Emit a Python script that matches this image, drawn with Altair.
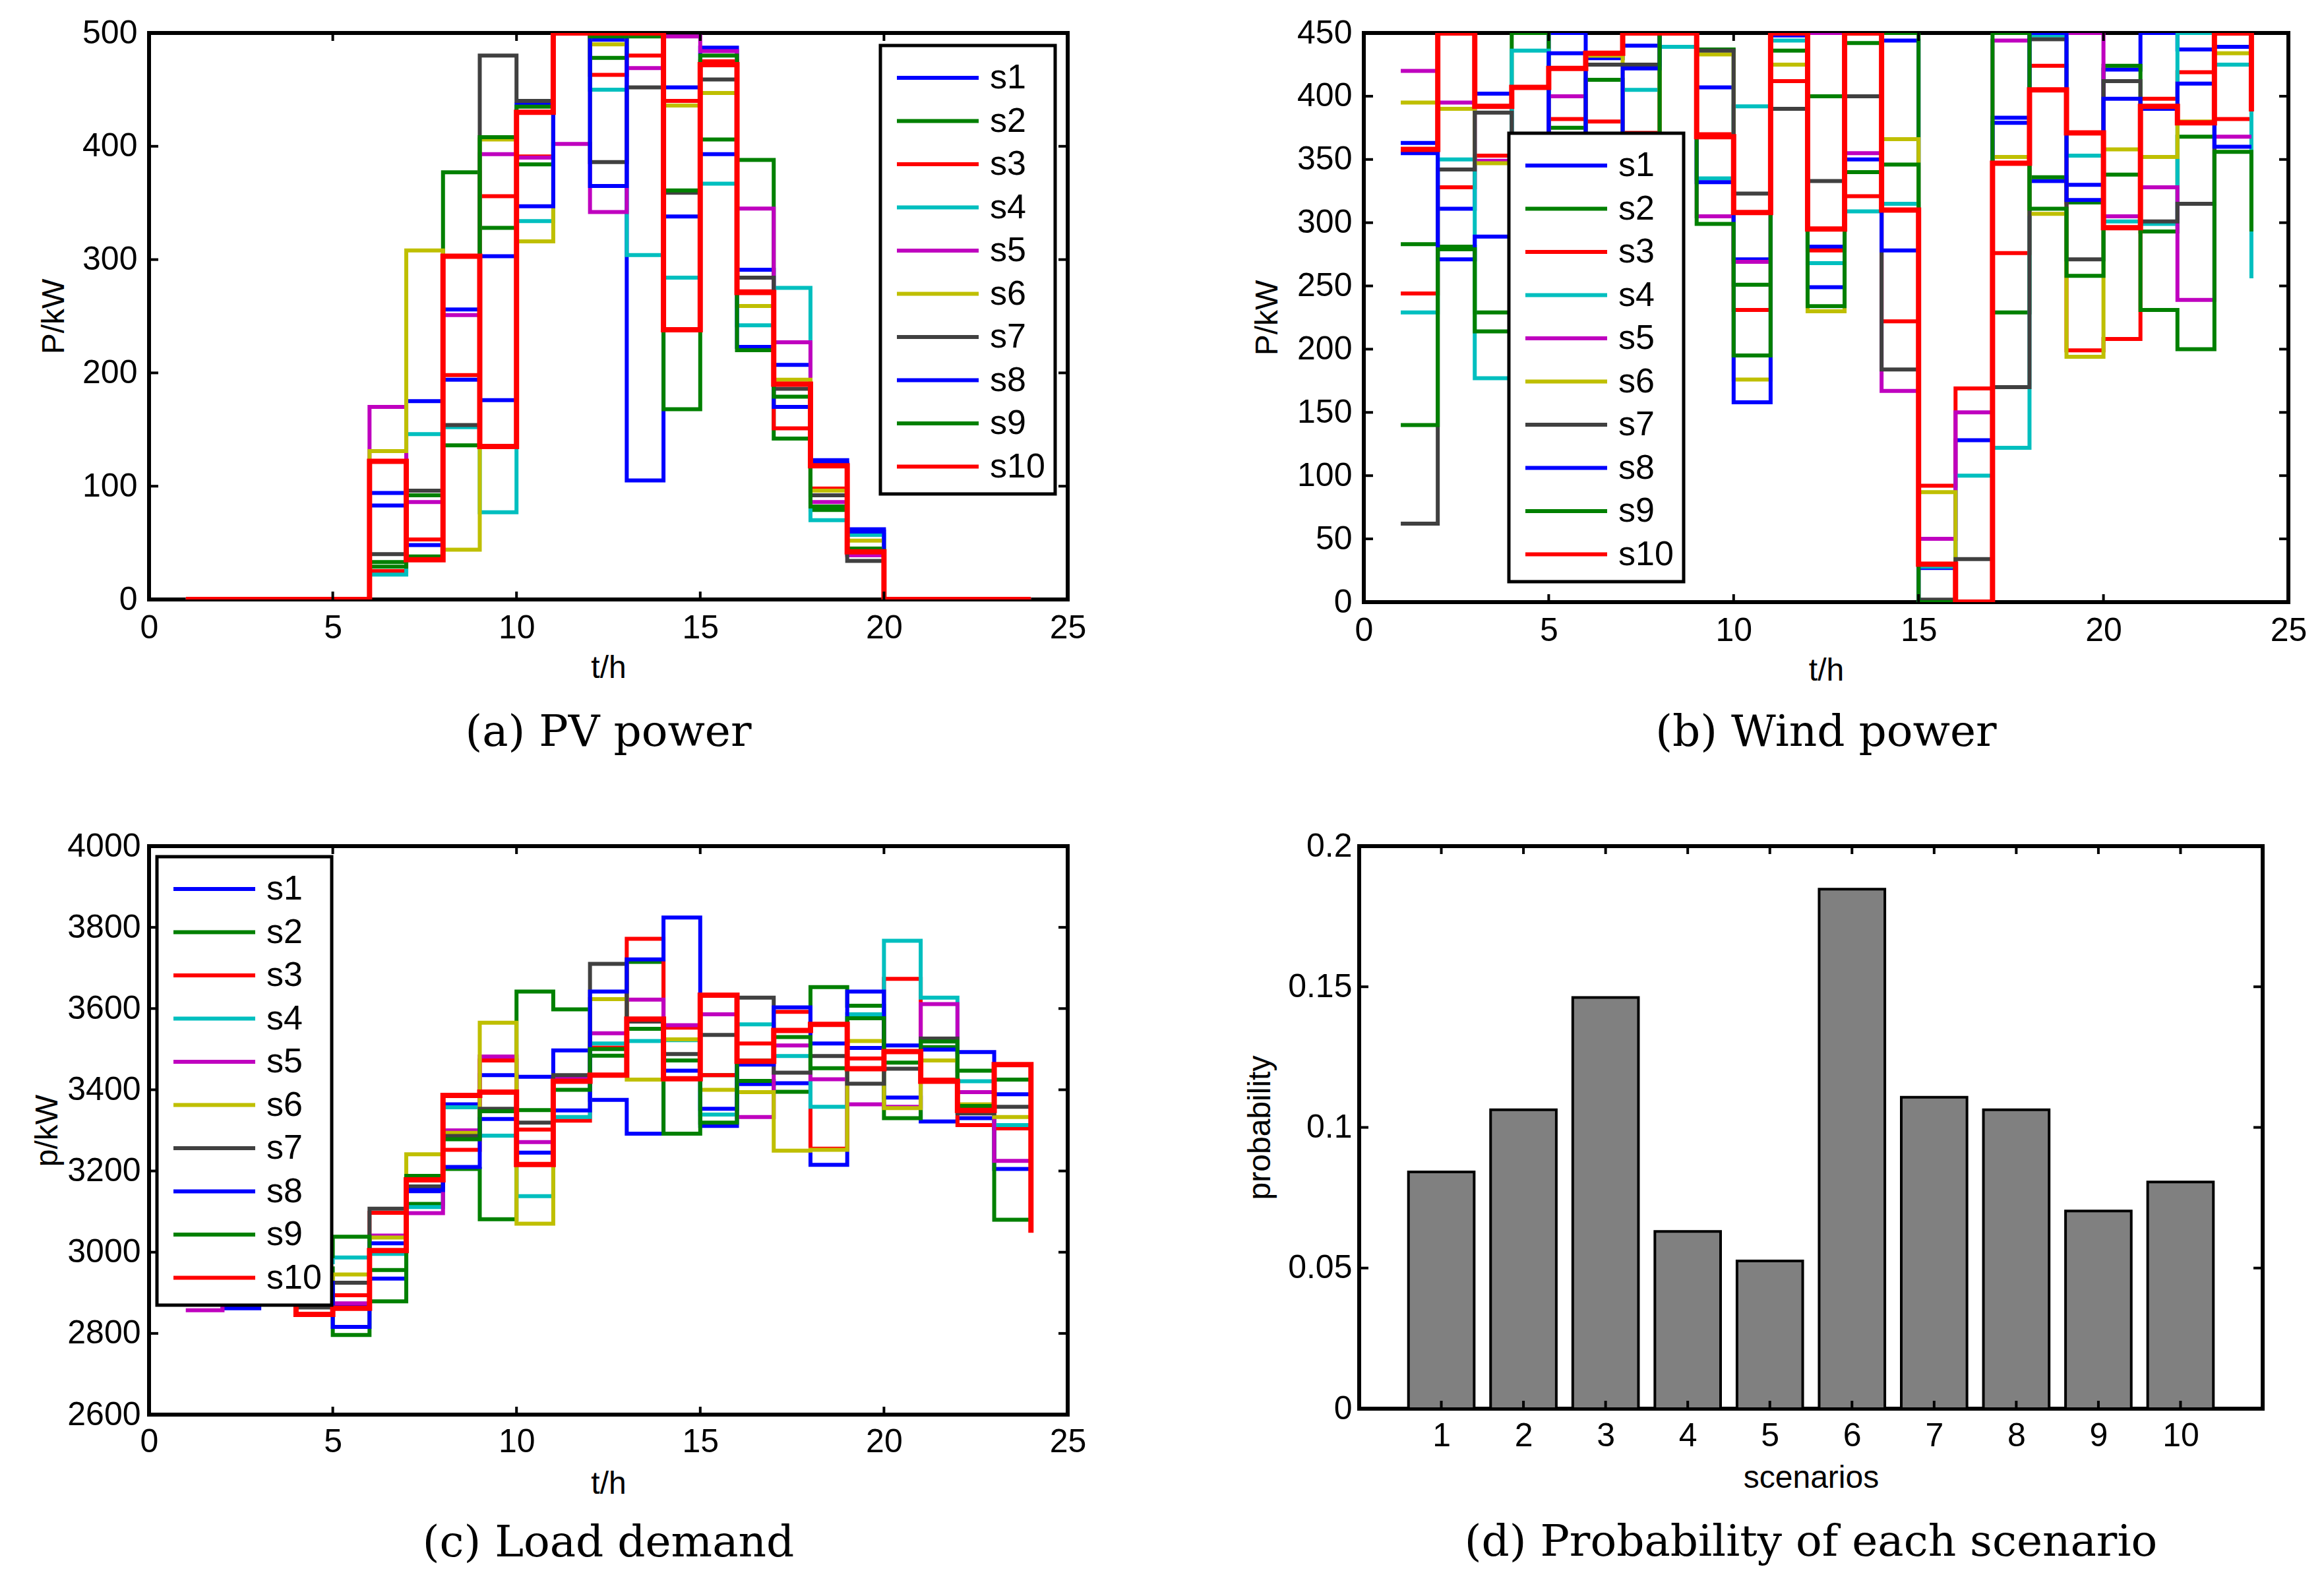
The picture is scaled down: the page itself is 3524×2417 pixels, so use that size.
import altair as alt
import pandas as pd

HOURS = list(range(1, 25))
SERIES = ["s1", "s2", "s3", "s4", "s5", "s6", "s7", "s8", "s9", "s10"]
COLORS = ["#0000ff", "#008000", "#ff0000", "#00bfbf", "#bf00bf",
          "#bfbf00", "#404040", "#0000ff", "#008000", "#ff0000"]

# ---- (a) PV power, kW, hours 1..24 ----
PV_S1 = [0, 0, 0, 0, 0, 94, 175, 256, 303, 437, 500, 494, 105, 338, 487, 291, 207, 123, 62, 0, 0, 0, 0, 0]
PV_S2 = [0, 0, 0, 0, 0, 33, 92, 377, 328, 384, 500, 478, 497, 168, 406, 388, 142, 79, 45, 0, 0, 0, 0, 0]
PV_S3 = [0, 0, 0, 0, 0, 25, 53, 198, 356, 391, 500, 463, 480, 440, 475, 272, 151, 98, 40, 0, 0, 0, 0, 0]
PV_S4 = [0, 0, 0, 0, 0, 22, 146, 152, 77, 334, 500, 450, 304, 284, 367, 242, 275, 70, 57, 0, 0, 0, 0, 0]
PV_S5 = [0, 0, 0, 0, 0, 170, 86, 251, 393, 390, 402, 342, 469, 497, 484, 345, 227, 86, 39, 0, 0, 0, 0, 0]
PV_S6 = [0, 0, 0, 0, 0, 131, 308, 44, 406, 316, 500, 490, 500, 436, 447, 259, 194, 96, 52, 0, 0, 0, 0, 0]
PV_S7 = [0, 0, 0, 0, 0, 40, 96, 154, 480, 440, 500, 386, 452, 359, 459, 284, 186, 92, 34, 0, 0, 0, 0, 0]
PV_S8 = [0, 0, 0, 0, 0, 83, 48, 194, 176, 347, 500, 365, 500, 452, 393, 223, 170, 120, 60, 0, 0, 0, 0, 0]
PV_S9 = [0, 0, 0, 0, 0, 29, 38, 136, 408, 435, 500, 497, 500, 361, 480, 220, 179, 82, 43, 0, 0, 0, 0, 0]
PV_S10 = [0, 0, 0, 0, 0, 122, 35, 303, 135, 430, 500, 500, 500, 238, 472, 271, 190, 118, 42, 0, 0, 0, 0, 0]

# ---- (b) Wind power, kW ----
WD_S1 = [363, 311, 402, 350, 450, 430, 440, 450, 407, 271, 448, 281, 350, 444, 27, 128, 383, 333, 330, 421, 450, 437, 439, 439]
WD_S2 = [283, 281, 229, 450, 375, 413, 340, 450, 437, 251, 436, 400, 442, 450, 0, 0, 229, 336, 316, 424, 293, 368, 450, 450]
WD_S3 = [244, 328, 353, 340, 382, 380, 371, 450, 370, 231, 412, 278, 321, 222, 92, 169, 276, 424, 199, 208, 398, 419, 382, 382]
WD_S4 = [229, 350, 177, 436, 345, 320, 405, 439, 335, 392, 444, 268, 309, 315, 28, 100, 122, 448, 353, 301, 299, 450, 425, 256]
WD_S5 = [420, 395, 349, 360, 400, 340, 300, 450, 305, 269, 450, 450, 355, 167, 50, 150, 444, 450, 450, 305, 328, 239, 368, 368]
WD_S6 = [395, 390, 347, 300, 330, 432, 320, 450, 433, 176, 425, 230, 450, 366, 87, 0, 352, 307, 194, 358, 352, 380, 434, 434]
WD_S7 = [62, 342, 387, 330, 350, 425, 425, 450, 436, 323, 390, 333, 400, 184, 2, 34, 170, 445, 271, 412, 301, 315, 450, 450]
WD_S8 = [355, 271, 289, 300, 434, 340, 422, 450, 332, 158, 450, 249, 450, 278, 0, 0, 379, 450, 318, 398, 390, 410, 360, 360]
WD_S9 = [140, 279, 214, 330, 300, 320, 350, 450, 299, 195, 450, 234, 340, 346, 0, 0, 450, 311, 258, 338, 231, 200, 356, 293]
WD_S10 = [358, 450, 392, 407, 422, 434, 450, 450, 368, 308, 450, 295, 450, 310, 30, 0, 347, 405, 371, 296, 392, 379, 450, 388]

# ---- (c) Load demand, kW ----
LD_S1 = [2890, 2862, 2880, 2905, 2870, 2935, 3150, 3364, 3436, 3432, 3497, 3375, 3292, 3447, 3311, 3414, 3416, 3215, 3503, 3381, 3322, 3330, 3205, 3205]
LD_S2 = [2930, 2940, 2920, 2960, 2796, 2879, 3119, 3205, 3081, 3642, 3598, 3484, 3715, 3292, 3436, 3422, 3395, 3653, 3607, 3330, 3505, 3447, 3080, 3080]
LD_S3 = [2910, 2900, 2890, 2885, 2894, 3097, 3180, 3252, 3472, 3302, 3324, 3504, 3772, 3553, 3436, 3514, 3592, 3255, 3477, 3673, 3425, 3313, 3305, 3305]
LD_S4 = [2920, 2935, 2950, 2975, 2987, 2996, 3111, 3357, 3287, 3138, 3333, 3514, 3520, 3522, 3339, 3561, 3483, 3358, 3586, 3767, 3627, 3421, 3313, 3313]
LD_S5 = [2857, 2880, 2900, 2890, 2874, 3041, 3096, 3300, 3482, 3271, 3431, 3539, 3622, 3559, 3586, 3333, 3509, 3426, 3364, 3358, 3611, 3394, 3225, 3225]
LD_S6 = [2940, 2925, 2945, 2935, 2945, 3036, 3241, 3294, 3565, 3070, 3420, 3623, 3425, 3524, 3400, 3394, 3250, 3252, 3520, 3355, 3472, 3364, 3333, 3333]
LD_S7 = [2895, 2905, 2915, 2864, 2925, 3107, 3162, 3286, 3353, 3319, 3436, 3710, 3568, 3488, 3535, 3627, 3442, 3483, 3415, 3452, 3526, 3342, 3358, 3358]
LD_S8 = [2900, 2910, 2895, 2925, 2816, 3022, 3153, 3210, 3328, 3245, 3349, 3642, 3721, 3824, 3353, 3462, 3603, 3514, 3642, 3509, 3499, 3493, 3389, 3389]
LD_S9 = [2950, 2960, 2975, 2990, 3038, 2956, 3188, 3278, 3347, 3350, 3400, 3500, 3550, 3472, 3319, 3472, 3530, 3453, 3576, 3467, 3519, 3360, 3425, 3425]
LD_S10 = [2880, 2890, 2875, 2847, 2862, 3004, 3178, 3386, 3394, 3216, 3421, 3436, 3574, 3427, 3633, 3470, 3546, 3561, 3452, 3494, 3421, 3349, 3462, 3048]

# ---- (d) Probability of each scenario ----
SCEN = [1, 2, 3, 4, 5, 6, 7, 8, 9, 10]
PROB = [0.0842, 0.1063, 0.1462, 0.0630, 0.0525, 0.1847, 0.1107, 0.1063, 0.0703, 0.0806]

# tick values
X_TICKS = [0, 5, 10, 15, 20, 25]
PV_TICKS = [0, 100, 200, 300, 400, 500]
WD_TICKS = [0, 50, 100, 150, 200, 250, 300, 350, 400, 450]
LD_TICKS = [2600, 2800, 3000, 3200, 3400, 3600, 3800, 4000]
PR_TICKS = [0, 0.05, 0.1, 0.15, 0.2]

PV = [PV_S1, PV_S2, PV_S3, PV_S4, PV_S5, PV_S6, PV_S7, PV_S8, PV_S9, PV_S10]
WD = [WD_S1, WD_S2, WD_S3, WD_S4, WD_S5, WD_S6, WD_S7, WD_S8, WD_S9, WD_S10]
LD = [LD_S1, LD_S2, LD_S3, LD_S4, LD_S5, LD_S6, LD_S7, LD_S8, LD_S9, LD_S10]

FONT = "Liberation Sans"
CAPFONT = "DejaVu Serif"
XTL = 12   # inside tick length for x ticks
YTL = 14   # inside tick length for y ticks


def long_df(series_lists):
    rows = []
    for name, vals in zip(SERIES, series_lists):
        for t, v in zip(HOURS, vals):
            rows.append({"t": t, "value": v, "series": name})
    return pd.DataFrame(rows)


def inside_ticks(W, H, xfield, xticks, xscale, xaxis, yfield, yticks, yscale, yaxis):
    xt = pd.DataFrame({xfield: xticks})
    yt = pd.DataFrame({yfield: yticks})
    layers = []
    for a, b in [(H, H - XTL), (0, XTL)]:
        layers.append(alt.Chart(xt).mark_rule(color="black", strokeWidth=4).encode(
            x=alt.X(f"{xfield}:Q", scale=xscale, axis=xaxis),
            y=alt.value(a), y2=alt.value(b)))
    for a, b in [(0, YTL), (W, W - YTL)]:
        layers.append(alt.Chart(yt).mark_rule(color="black", strokeWidth=4).encode(
            y=alt.Y(f"{yfield}:Q", scale=yscale, axis=yaxis),
            x=alt.value(a), x2=alt.value(b)))
    return layers


def caption(text, offset):
    return alt.TitleParams(text, orient="bottom", font=CAPFONT, fontSize=66,
                           fontWeight="normal", color="black", offset=offset)


def make_legend(legx, legy):
    return alt.Legend(title=None, orient="none", legendX=legx, legendY=legy,
                      symbolType="M-2,0H2", symbolSize=62 * 62, symbolStrokeWidth=6,
                      symbolOffset=38, labelOffset=45,
                      labelFontSize=52, labelFont=FONT, labelColor="black",
                      rowPadding=5.5, padding=15, fillColor="white", strokeColor="black")


def step_panel(series_lists, W, H, ydom, yticks, ytitle, cap, legx, legy,
               ylabpad, ytitlepad, xlabpad, xtitlepad, capoff, yfmt=None):
    df = long_df(series_lists)
    xs = alt.Scale(domain=[0, 25], nice=False, zero=False)
    ys = alt.Scale(domain=ydom, nice=False, zero=False)
    xaxis = alt.Axis(values=X_TICKS, title="t/h", labelPadding=xlabpad,
                     titlePadding=xtitlepad, labelFlush=False, labelOverlap=False)
    ykw = dict(values=yticks, title=ytitle, labelPadding=ylabpad,
               titlePadding=ytitlepad, labelFlush=False, labelOverlap=False)
    if yfmt:
        ykw["format"] = yfmt
    yaxis = alt.Axis(**ykw)
    lines = alt.Chart(df).mark_line(interpolate="step-after", clip=True).encode(
        x=alt.X("t:Q", scale=xs, axis=xaxis, title="t/h"),
        y=alt.Y("value:Q", scale=ys, axis=yaxis, title=ytitle),
        color=alt.Color("series:N", scale=alt.Scale(domain=SERIES, range=COLORS),
                        legend=make_legend(legx, legy)),
        strokeWidth=alt.condition("datum.series === 's10'", alt.value(8), alt.value(6)),
    )
    layers = [lines] + inside_ticks(W, H, "t", X_TICKS, xs, xaxis, "value", yticks, ys, yaxis)
    return alt.layer(*layers).properties(width=W, height=H, title=caption(cap, capoff))


pa = step_panel(PV, 1393, 859, [0, 500], PV_TICKS, "P/kW", "(a) PV power",
                1109, 19, 18, 18, 18, 12, 42)
pb = step_panel(WD, 1402, 863, [0, 450], WD_TICKS, "P/kW", "(b) Wind power",
                220, 152, 18, 20, 18, 12, 38)
pc = step_panel(LD, 1393, 862, [2600, 4000], LD_TICKS, "p/kW", "(c) Load demand",
                12, 16, 13, 5, 16, 15, 34, yfmt="d")

# (d) probability bars
DH = 853
dfp = pd.DataFrame({"xl": SCEN, "prob": PROB})
xs_d = alt.Scale(domain=[0, 11], nice=False, zero=False)
ys_d = alt.Scale(domain=[0, 0.2], nice=False, zero=True)
xaxis_d = alt.Axis(values=SCEN, title="scenarios", labelPadding=16, titlePadding=15,
                   labelFlush=False, labelOverlap=False)
yaxis_d = alt.Axis(values=PR_TICKS, format="~g", title="probability", labelPadding=11,
                   titlePadding=17, labelFlush=False, labelOverlap=False)
bars = alt.Chart(dfp).transform_calculate(
    x0="datum.xl - 0.4", x1="datum.xl + 0.4", base="0"
).mark_rect(fill="#808080", stroke="black", strokeWidth=4).encode(
    x=alt.X("x0:Q", scale=xs_d, axis=xaxis_d, title="scenarios"),
    x2="x1:Q",
    y=alt.Y("prob:Q", scale=ys_d, axis=yaxis_d, title="probability"),
    y2="base:Q",
)
pd_layers = [bars] + inside_ticks(1370, DH, "x0", SCEN, xs_d, xaxis_d, "prob", PR_TICKS, ys_d, yaxis_d)
pdp = alt.layer(*pd_layers).properties(width=1370, height=DH,
                                       title=caption("(d) Probability of each scenario", 42))

row1 = alt.hconcat(pa, pb, spacing=245).resolve_scale(color="independent")
row2 = alt.hconcat(pc, pdp, spacing=234).resolve_scale(color="independent")

chart = alt.vconcat(row1, row2, spacing=108).resolve_scale(color="independent").properties(
    padding={"left": 37, "top": 14, "right": 0, "bottom": 10},
    background="white"
).configure_view(
    stroke="black", strokeWidth=6
).configure_axis(
    grid=False, ticks=False, domain=False,
    labelFont=FONT, labelFontSize=50, labelColor="black",
    titleFont=FONT, titleFontSize=48, titleFontWeight="normal", titleColor="black"
).configure_legend(
    strokeWidth=5
)

chart.save("out.html", embed_options={"renderer": "svg", "actions": False})
